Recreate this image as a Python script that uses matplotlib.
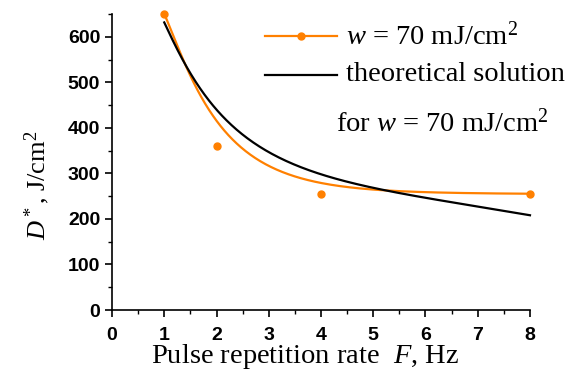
import numpy as np
import matplotlib
matplotlib.use("Agg")
import matplotlib.pyplot as plt
from matplotlib.ticker import MultipleLocator

# measured data (orange points)
freq = [1, 2, 4, 8]
dose = [650, 360, 255, 255]

fit_x = [1.0, 1.37, 1.65, 2.07, 2.48, 3.02, 3.6, 4.11, 5.26, 6.66, 8.0]
fit_y = [650, 549, 478, 406, 355, 318, 289, 276, 262, 258, 255]

# theoretical solution
theo_x = [1.0, 1.37, 1.68, 2.0, 2.45, 3.0, 3.6, 4.11, 5.26, 6.66, 8.0]
theo_y = [631, 549, 484, 440, 390, 349, 314, 293, 262, 234, 208]

x_ticks = [0, 1, 2, 3, 4, 5, 6, 7, 8]
y_ticks = [0, 100, 200, 300, 400, 500, 600]

ORANGE = "#ff8000"


def smooth(xs, ys, deg=5, n=300):
    # least-squares polynomial in log(x) to iron out reading noise
    lx = np.log(np.asarray(xs, float))
    coef = np.polyfit(lx, np.asarray(ys, float), deg)
    gx = np.linspace(lx[0], lx[-1], n)
    return np.exp(gx), np.polyval(coef, gx)


plt.rcParams["mathtext.fontset"] = "custom"
plt.rcParams["mathtext.rm"] = "Liberation Serif"
plt.rcParams["mathtext.it"] = "Liberation Serif:italic"

fig = plt.figure(figsize=(5.70, 3.71), dpi=100)
ax = fig.add_axes([0.1965, 0.1644, 0.7333, 0.7978])

fx, fy = smooth(fit_x, fit_y)
tx, ty = smooth(theo_x, theo_y, deg=4)

ax.plot(fx, fy, color=ORANGE, lw=1.6, clip_on=False)
ax.plot(freq, dose, "o", color=ORANGE, ms=5, clip_on=False, zorder=3)
ax.plot(tx, ty, color="black", lw=1.6, clip_on=False)

ax.set_xlim(0, 8)
ax.set_ylim(0, 650)
ax.set_xticks(x_ticks)
ax.set_yticks(y_ticks)
ax.xaxis.set_minor_locator(MultipleLocator(0.5))
ax.yaxis.set_minor_locator(MultipleLocator(50))
ax.tick_params(which="major", direction="out", length=5, width=1.2)
ax.tick_params(which="minor", direction="out", length=3, width=1.0)
ax.tick_params(axis="x", which="major", pad=7)
ax.tick_params(axis="y", which="major", pad=3.5)
for lab in ax.get_xticklabels() + ax.get_yticklabels():
    lab.set_fontfamily("Liberation Sans")
    lab.set_fontweight("bold")
    lab.set_fontsize(14)

for s in ["top", "right"]:
    ax.spines[s].set_visible(False)
for s in ["left", "bottom"]:
    ax.spines[s].set_linewidth(1.2)

ax.set_xlabel(r"Pulse repetition rate  $F$, Hz", fontfamily="Liberation Serif",
              fontsize=20.5)
ax.xaxis.set_label_coords(0.462, -0.108)
ax.set_ylabel(r"$D^*$, J/cm$^2$", fontfamily="Liberation Serif", fontsize=19)
ax.yaxis.set_label_coords(-0.143, 0.42)

# legend drawn by hand to match the original layout
leg_kw = dict(transform=ax.transAxes, fontfamily="Liberation Serif", fontsize=20.5,
              va="center", ha="left")
ax.plot([0.366, 0.538], [0.926, 0.926], color=ORANGE, lw=1.6,
        transform=ax.transAxes, clip_on=False)
ax.plot([0.451], [0.926], "o", color=ORANGE, ms=5, transform=ax.transAxes,
        clip_on=False)
ax.text(0.561, 0.926, r"$w$ = 70 mJ/cm$^2$", **leg_kw)
ax.plot([0.366, 0.538], [0.794, 0.794], color="black", lw=1.6,
        transform=ax.transAxes, clip_on=False)
ax.text(0.561, 0.794, "theoretical solution", **leg_kw)
ax.text(0.537, 0.632, r"for $w$ = 70 mJ/cm$^2$", **leg_kw)

fig.savefig("out.png", dpi=100)
